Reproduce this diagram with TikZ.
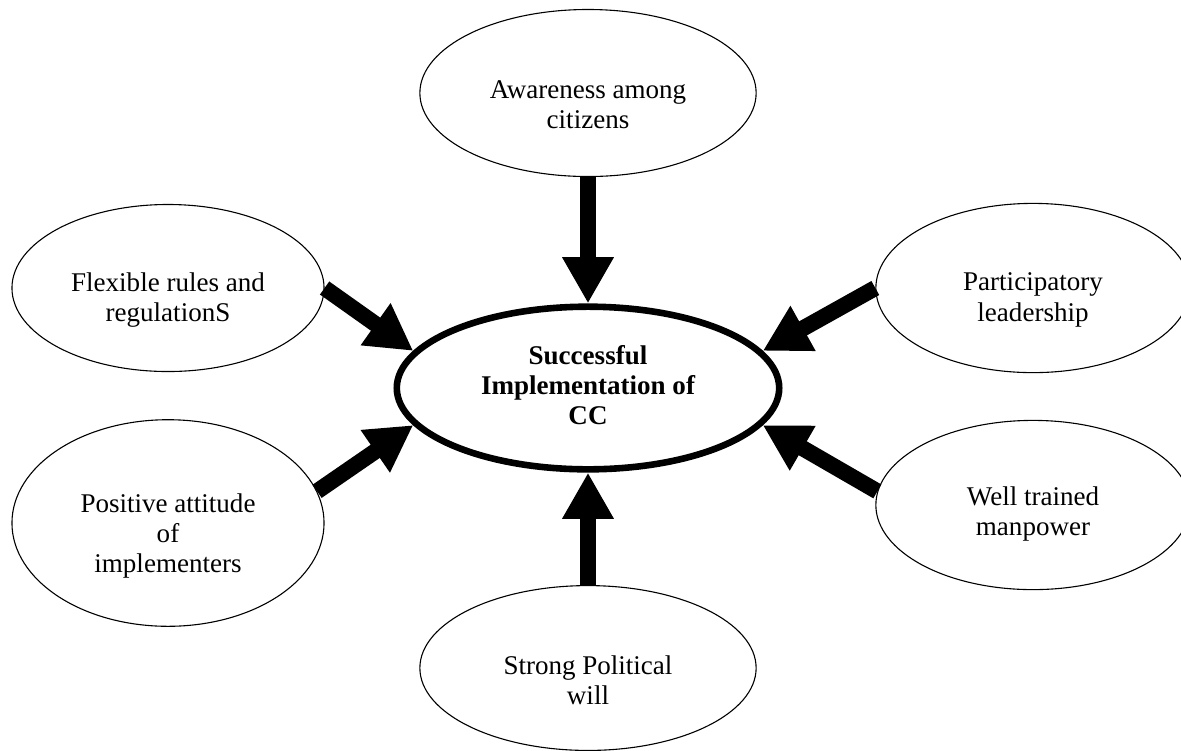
\documentclass[tikz,border=0pt]{standalone}
\usepackage{fontspec}
\setmainfont{Liberation Serif}
\usetikzlibrary{shapes.geometric,arrows.meta}

\tikzset{
  factor/.style={draw, ellipse, line width=0.5pt, inner sep=0pt},
  hub/.style={draw, ellipse, line width=3pt, inner sep=0pt, minimum width=174pt, minimum height=74pt},
  txt/.style={align=center, font=\fontsize{12.3}{13.8}\selectfont, inner sep=0pt},
  push/.style={line width=7.3pt, -{Triangle[width=22pt,length=21pt]}}
}

\begin{document}
\begin{tikzpicture}[x=0.455pt,y=0.455pt,yscale=-1,xscale=1]
\useasboundingbox (0,0) rectangle (1181,750);

%Shape: Ellipse [centre]
\node[hub] (succ) at (588,388) {};
%Shape: Ellipse [top]
\node[factor, minimum width=153pt, minimum height=76pt] (aware) at (588,93) {};
%Shape: Ellipse [upper left]
\node[factor, minimum width=142pt, minimum height=76pt] (flex) at (168,288) {};
%Shape: Ellipse [upper right]
\node[factor, minimum width=143pt, minimum height=77pt] (part) at (1033,288) {};
%Shape: Ellipse [lower left]
\node[factor, minimum width=142pt, minimum height=94pt] (posi) at (168,523) {};
%Shape: Ellipse [lower right]
\node[factor, minimum width=143pt, minimum height=77pt] (well) at (1033,505) {};
%Shape: Ellipse [bottom]
\node[factor, minimum width=153pt, minimum height=75pt] (will) at (588,668) {};

%Straight Lines
\draw[push] (aware.south) -- (succ.north);
\draw[push] (will.north) -- (succ.south);
\draw[push] (flex.east) -- (succ.168);
\draw[push] (posi.12) -- (succ.192);
\draw[push] (part.west) -- (succ.12);
\draw[push] (well.175) -- (succ.348);

% Text Node
\node[txt, font=\fontsize{12.3}{13.8}\selectfont\bfseries] (succ-txt) at (588,385) {Successful\\Implementation of\\CC};
% Text Node
\node[txt] (aware-txt) at (588,105) {Awareness among\\citizens};
% Text Node
\node[txt] (flex-txt) at (168,300) {Flexible rules and\\regulationS};
% Text Node
\node[txt] (part-txt) at (1033,300) {Participatory\\leadership};
% Text Node
\node[txt] (posi-txt) at (168,536) {Positive attitude\\of\\implementers};
% Text Node
\node[txt] (well-txt) at (1033,514) {Well trained\\manpower};
% Text Node
\node[txt] (will-txt) at (588,680) {Strong Political\\will};

\end{tikzpicture}
\end{document}
